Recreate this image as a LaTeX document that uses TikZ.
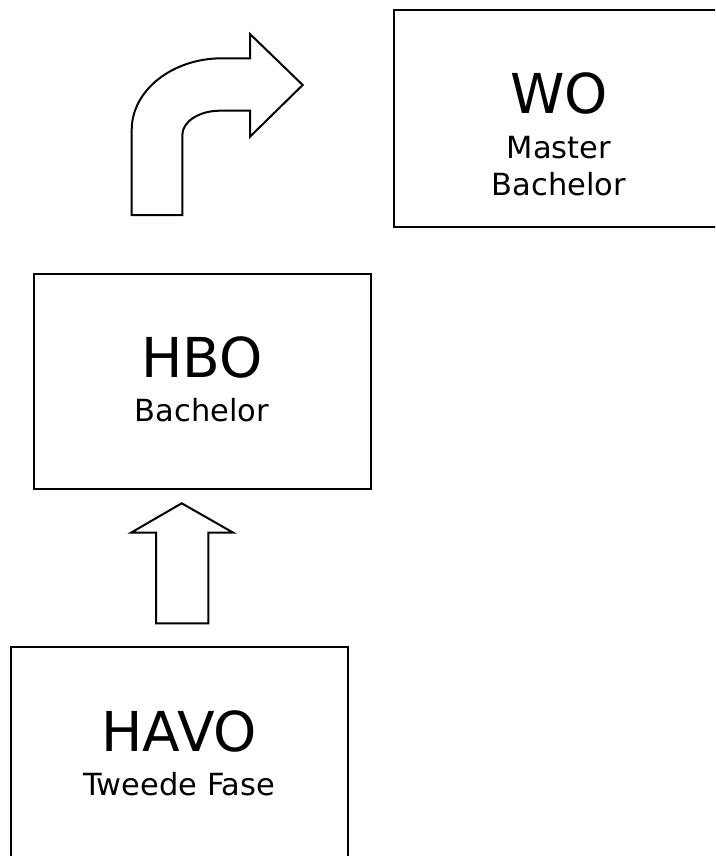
\documentclass[tikz,border=0pt]{standalone}
\usepackage{fontspec}
\setmainfont{DejaVu Sans}
\begin{document}
\begin{tikzpicture}[x=1pt,y=-1pt,
  box/.style={draw=black,line width=2pt,fill=white},
  blockarrow/.style={draw=black,line width=2pt,fill=white,line join=miter},
  bigtext/.style={anchor=base,inner sep=0pt,font=\fontsize{55}{60}\selectfont},
  subtext/.style={anchor=base,inner sep=0pt,font=\fontsize{30.5}{36}\selectfont}]
\useasboundingbox (0,0) rectangle (715,856);
\clip (0,0) rectangle (715,856);
% boxes
\draw[box] (394.3,10) rectangle (723.7,226.7) coordinate (woBR);
\coordinate (woTL) at (394.3,10);
\draw[box] (34.3,274) rectangle (371,489.3);
\coordinate (hboTL) at (34.3,274);
\draw[box] (11,647.3) rectangle (347.7,864);
\coordinate (havoTL) at (11,647.3);
% texts
\node[bigtext] (wo) at (559,113.3) {WO};
\node[subtext] (wo1) at (559,158.3) {Master};
\node[subtext] (wo2) at (559,195) {Bachelor};
\node[bigtext] (hbo) at (202,377.3) {HBO};
\node[subtext] (hbo1) at (202,421.7) {Bachelor};
\node[bigtext] (havo) at (179.3,751.7) {HAVO};
\node[subtext] (havo1) at (179.3,795) {Tweede Fase};
% curved block arrow
\draw[blockarrow] (131.7,215) -- (131.7,130)
  .. controls (131.7,90.3) and (172.3,58.3) .. (222,58.3)
  -- (250,58.3) -- (250,34) -- (302.7,85) -- (250,136.7) -- (250,110.7)
  -- (220,110.7) .. controls (199.2,110.7) and (182.3,121.6) .. (182.3,135)
  -- (182.3,215) -- cycle;
% straight up block arrow
\draw[blockarrow] (156,623.3) -- (156,532.7) -- (131,532.7) -- (181.7,503.3)
  -- (233.3,532.7) -- (208.3,532.7) -- (208.3,623.3) -- cycle;
\end{tikzpicture}
\end{document}
